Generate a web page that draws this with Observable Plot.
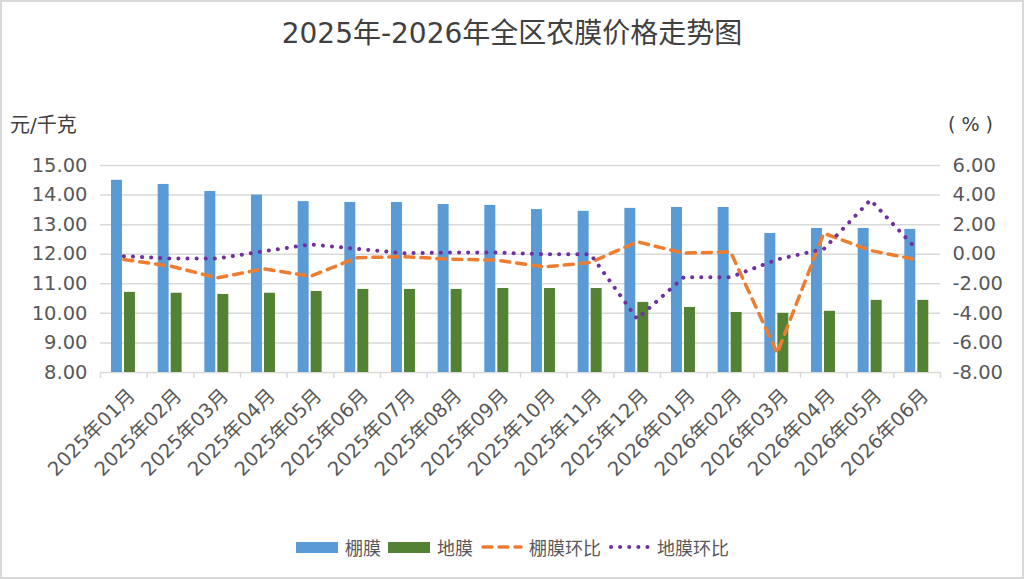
<!DOCTYPE html>
<html>
<head>
<meta charset="utf-8">
<script src="https://cdn.jsdelivr.net/npm/d3@7"></script>
<script src="https://cdn.jsdelivr.net/npm/@observablehq/plot@0.6"></script>
<style>
  html, body { margin: 0; padding: 0; background: #fff; }
  #wrap { position: relative; width: 1024px; height: 579px; overflow: hidden;
          font-family: "DejaVu Sans", "Noto Sans CJK SC", sans-serif; color: #595959; }
  #frame { position: absolute; left: 0; top: 0; width: 1020px; height: 575px; border: 2px solid #d9d9d9; box-sizing: content-box; pointer-events: none; }
  #title { position: absolute; left: 0; width: 1024px; top: 11px; text-align: center; font-size: 28px; color: #404040; }
  .unit { position: absolute; font-size: 19px; color: #404040; }
  #legend { position: absolute; top: 534px; left: 0; width: 1024px; display: flex; justify-content: center; align-items: center; font-size: 18px; color: #595959; }
  #legend .it { display: flex; align-items: center; margin: 0 3px; }
  #legend svg { margin-right: 6px; }
  #chart { position: absolute; left: 0; top: 0; }
</style>
</head>
<body>
<div id="wrap">
  <div id="chart"></div>
  <div id="title">2025年-2026年全区农膜价格走势图</div>
  <div class="unit" style="left:10px; top:109px; font-size:20px;">元/千克</div>
  <div class="unit" style="left:948px; top:113px; font-size:19px; white-space:pre;">( % )</div>
  <div id="legend"></div>
  <div id="frame"></div>
</div>
<script>
const months = ["2025年01月","2025年02月","2025年03月","2025年04月","2025年05月","2025年06月","2025年07月","2025年08月","2025年09月","2025年10月","2025年11月","2025年12月","2026年01月","2026年02月","2026年03月","2026年04月","2026年05月","2026年06月"];
const pengmo = [14.50,14.36,14.12,14.00,13.78,13.75,13.75,13.68,13.65,13.51,13.45,13.55,13.58,13.58,12.70,12.87,12.87,12.84];
const dimo = [10.71,10.68,10.64,10.68,10.74,10.81,10.81,10.81,10.84,10.84,10.84,10.37,10.20,10.03,10.00,10.07,10.44,10.44];
const pengmoMoM = [-0.36,-0.80,-1.60,-0.99,-1.49,-0.24,-0.16,-0.34,-0.40,-0.86,-0.56,0.84,0.07,0.16,-6.69,1.42,0.25,-0.38];
const dimoMoM = [-0.13,-0.29,-0.29,0.20,0.66,0.36,0.07,0.11,0.11,0.00,0.00,-4.37,-1.55,-1.55,-0.36,0.36,3.67,0.30];
const leftTicks = [8,9,10,11,12,13,14,15];
const rightTicks = [-8,-6,-4,-2,0,2,4,6];
const seriesNames = ["棚膜","地膜","棚膜环比","地膜环比"];
const colors = ["#5B9BD5","#548235","#ED7D31","#7030A0"];

// map right-axis percent onto the left scale domain [8,15]
const pctToLeft = p => 8 + (p + 8) * 7 / 14;
const leftToPct = v => (v - 8) * 14 / 7 - 8;

const barsP = months.map((m, i) => ({m, v: pengmo[i]}));
const barsD = months.map((m, i) => ({m, v: dimo[i]}));
const lineP = months.map((m, i) => ({m, v: pctToLeft(pengmoMoM[i])}));
const lineD = months.map((m, i) => ({m, v: pctToLeft(dimoMoM[i])}));

const half = 840 / 18 / 2;

const chart = Plot.plot({
  width: 1024,
  height: 579,
  marginTop: 165,
  marginBottom: 207,
  marginLeft: 100,
  marginRight: 84,
  style: {fontFamily: '"DejaVu Sans", "Noto Sans CJK SC", sans-serif', background: "transparent"},
  x: {type: "band", domain: months, padding: 0, round: false, axis: null},
  y: {domain: [8, 15], axis: null},
  marks: [
    Plot.ruleY(leftTicks, {y: d => d, stroke: "#d9d9d9", strokeWidth: 1.5}),
    Plot.ruleX(months, {x: d => d, dx: -half, y1: 8, y2: 8, insetBottom: -6, stroke: "#d9d9d9", strokeWidth: 1.5}),
    Plot.ruleX([months[months.length - 1]], {x: d => d, dx: half, y1: 8, y2: 8, insetBottom: -6, stroke: "#d9d9d9", strokeWidth: 1.5}),
    Plot.barY(barsP, {x: "m", y1: 8, y2: "v", fill: colors[0], insetLeft: 11, insetRight: 24.7}),
    Plot.barY(barsD, {x: "m", y1: 8, y2: "v", fill: colors[1], insetLeft: 24, insetRight: 11.7}),
    Plot.line(lineP, {x: "m", y: "v", stroke: colors[2], strokeWidth: 3.5, strokeDasharray: "9,7", strokeLinecap: "round", strokeLinejoin: "round"}),
    Plot.line(lineD, {x: "m", y: "v", stroke: colors[3], strokeWidth: 4, strokeDasharray: "0.1,9", strokeLinecap: "round", strokeLinejoin: "round"}),
    Plot.axisY({anchor: "left", ticks: leftTicks, tickFormat: d => d.toFixed(2), tickSize: 0, tickPadding: 13, fontSize: 19.5, fill: "#595959", label: null}),
    Plot.axisY({anchor: "right", ticks: rightTicks.map(pctToLeft), tickFormat: d => leftToPct(d).toFixed(2), tickSize: 0, tickPadding: 12, fontSize: 19.5, fill: "#595959", label: null}),
    Plot.axisX({anchor: "bottom", tickSize: 0, tickPadding: 20, tickRotate: -45, fontSize: 19.5, fill: "#595959", label: null, dx: 8})
  ]
});
document.getElementById("chart").appendChild(chart);

// legend
const legend = document.getElementById("legend");
function swatch(i) {
  const ns = "http://www.w3.org/2000/svg";
  const s = document.createElementNS(ns, "svg");
  s.setAttribute("width", 44); s.setAttribute("height", 14);
  if (i < 2) {
    const r = document.createElementNS(ns, "rect");
    r.setAttribute("x", 1); r.setAttribute("y", 2); r.setAttribute("width", 42); r.setAttribute("height", 11);
    r.setAttribute("fill", colors[i]);
    s.appendChild(r);
  } else {
    const l = document.createElementNS(ns, "line");
    l.setAttribute("x1", 4); l.setAttribute("x2", 42); l.setAttribute("y1", 7); l.setAttribute("y2", 7);
    l.setAttribute("stroke", colors[i]); l.setAttribute("stroke-width", i === 2 ? 3.5 : 4);
    l.setAttribute("stroke-linecap", "round");
    l.setAttribute("stroke-dasharray", i === 2 ? "9,7" : "0.1,9");
    s.appendChild(l);
  }
  return s;
}
seriesNames.forEach((n, i) => {
  const it = document.createElement("div");
  it.className = "it";
  it.appendChild(swatch(i));
  const t = document.createElement("span");
  t.textContent = n;
  it.appendChild(t);
  legend.appendChild(it);
});
</script>
</body>
</html>
